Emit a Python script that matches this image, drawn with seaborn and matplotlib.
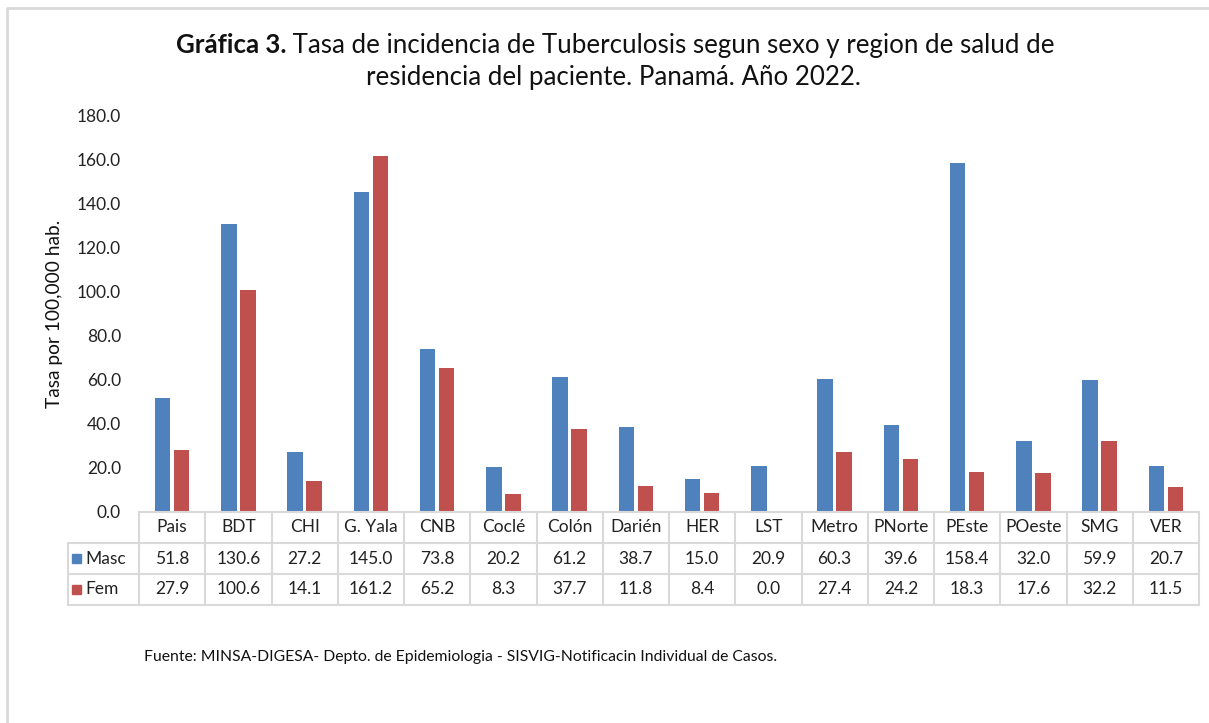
import matplotlib
matplotlib.use("Agg")
import numpy as np
import pandas as pd
import matplotlib.pyplot as plt
from matplotlib.ticker import FormatStrFormatter
import seaborn as sns

# datos
regiones = ['Pais', 'BDT', 'CHI', 'G. Yala', 'CNB', 'Coclé', 'Colón', 'Darién',
            'HER', 'LST', 'Metro', 'PNorte', 'PEste', 'POeste', 'SMG', 'VER']
masc = [51.8, 130.6, 27.2, 145.0, 73.8, 20.2, 61.2, 38.7,
        15.0, 20.9, 60.3, 39.6, 158.4, 32.0, 59.9, 20.7]
fem = [27.9, 100.6, 14.1, 161.2, 65.2, 8.3, 37.7, 11.8,
       8.4, 0.0, 27.4, 24.2, 18.3, 17.6, 32.2, 11.5]
series = ['Masc', 'Fem']
colores = ['#4F81BD', '#C0504D']

df = pd.DataFrame({'Region': regiones * 2,
                   'Sexo': ['Masc'] * len(regiones) + ['Fem'] * len(regiones),
                   'Tasa': masc + fem})

sns.set_style("white")
plt.rcParams['font.family'] = ['Lato', 'DejaVu Sans']
W, H = 1209, 723
fig = plt.figure(figsize=(W / 100, H / 100), dpi=100)

# area de trazado en pixeles
x0, x1, ytop, ybot = 139, 1199, 115, 512
ax = fig.add_axes([x0 / W, 1 - ybot / H, (x1 - x0) / W, (ybot - ytop) / H])

sns.barplot(data=df, x='Region', y='Tasa', hue='Sexo', order=regiones,
            hue_order=series, palette=colores, saturation=1, width=0.573, gap=0.18,
            linewidth=0, legend=False, ax=ax)

ax.set_xlim(-0.5, len(regiones) - 0.5)
ax.set_ylim(0, 180)
ax.set_yticks(np.arange(0, 181, 20))
ax.yaxis.set_major_formatter(FormatStrFormatter('%.1f'))
ax.tick_params(axis='y', length=0, pad=13, labelsize=12.5, labelcolor='#222222')
ax.set_xticks([])
ax.set_xlabel('')
ax.set_ylabel('Tasa por 100,000 hab.', fontsize=13.8, color='#111111', labelpad=10)
for s in ax.spines.values():
    s.set_visible(False)

# tabla de datos debajo del eje
gris = '#D9D9D9'
def fy(py):
    return 1 - py / H
def fx(px):
    return px / W
filas = [512, 543, 574, 605]
leg_left = 68
colw = (x1 - x0) / len(regiones)

ln = dict(color=gris, lw=1.5, transform=fig.transFigure, clip_on=False)
# horizontales
fig.add_artist(plt.Line2D([fx(x0), fx(x1)], [fy(filas[0])] * 2, **ln))
for py in filas[1:]:
    fig.add_artist(plt.Line2D([fx(leg_left), fx(x1)], [fy(py)] * 2, **ln))
# verticales
for i in range(len(regiones) + 1):
    px = x0 + i * colw
    fig.add_artist(plt.Line2D([fx(px)] * 2, [fy(filas[0]), fy(filas[3])], **ln))
fig.add_artist(plt.Line2D([fx(leg_left)] * 2, [fy(filas[1]), fy(filas[3])], **ln))

for i, reg in enumerate(regiones):
    ym = fy((filas[0] + filas[1]) / 2)
    fig.text(fx(x0 + (i + 0.5) * colw), ym, reg, ha='center', va='center',
             fontsize=12.5, color='#222222')
for r, (nombre, vals, col) in enumerate(zip(series, [masc, fem], colores)):
    ym = fy((filas[r + 1] + filas[r + 2]) / 2)
    for i, v in enumerate(vals):
        fig.text(fx(x0 + (i + 0.5) * colw), ym, f'{v:.1f}', ha='center',
                 va='center', fontsize=12.5, color='#222222')
    fig.add_artist(plt.Rectangle((fx(72), ym - 4.5 / H), 9 / W, 9 / H,
                                 color=col, transform=fig.transFigure))
    fig.text(fx(85), ym, nombre, ha='left', va='center', fontsize=12.5,
             color='#222222')

# titulo con parte en negrita
t1 = fig.text(0, fy(45), 'Gráfica 3.', fontsize=18.6, fontweight='bold',
              ha='left', va='center', color='#111111')
t2 = fig.text(0, fy(45), ' Tasa de incidencia de Tuberculosis segun sexo y region de salud de',
              fontsize=18.6, ha='left', va='center', color='#111111')
r = fig.canvas.get_renderer()
w1 = t1.get_window_extent(r).width
w2 = t2.get_window_extent(r).width
start = 615 - (w1 + w2) / 2
t1.set_x(start / W)
t2.set_x((start + w1) / W)
fig.text(fx(614), fy(78), 'residencia del paciente. Panamá. Año 2022.',
         fontsize=18.6, ha='center', va='center', color='#111111')

fig.text(fx(144), fy(657), 'Fuente: MINSA-DIGESA- Depto. de Epidemiologia - SISVIG-Notificacin Individual de Casos.',
         fontsize=11.3, ha='left', va='center', color='#111111')

# borde del grafico
fig.add_artist(plt.Line2D([fx(7), fx(7), fx(1215)], [fy(730), fy(8), fy(8)],
                          color=gris, lw=2, transform=fig.transFigure))

fig.savefig('out.png', dpi=100, facecolor='white')
